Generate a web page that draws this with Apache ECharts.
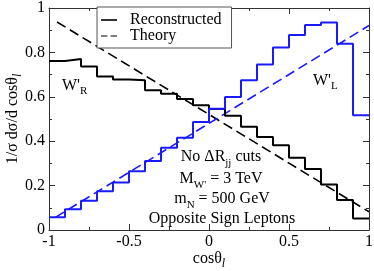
<!DOCTYPE html>
<html>
<head>
<meta charset="utf-8">
<script src="https://cdn.jsdelivr.net/npm/echarts@6/dist/echarts.min.js"></script>
<style>
html,body{margin:0;padding:0;background:#fff;}
#chart{width:374px;height:271px;}
</style>
</head>
<body>
<div id="chart"></div>
<script>
// Bin edges in cos(theta_l)
const binEdges = [-1, -0.9, -0.8, -0.7, -0.6, -0.5, -0.4, -0.3, -0.2, -0.1, 0, 0.1, 0.2, 0.3, 0.4, 0.5, 0.6, 0.7, 0.8, 0.9, 1];
// Reconstructed W'_R (black histogram)
const reconR = [0.761, 0.770, 0.737, 0.692, 0.678, 0.674, 0.629, 0.614, 0.590, 0.562, 0.545, 0.515, 0.465, 0.419, 0.382, 0.325, 0.275, 0.205, 0.135, 0.052];
// Reconstructed W'_L (blue histogram)
const reconL = [0.057, 0.094, 0.132, 0.174, 0.214, 0.265, 0.311, 0.370, 0.415, 0.486, 0.546, 0.599, 0.674, 0.745, 0.822, 0.878, 0.923, 0.935, 0.839, 0.517];
// Theory lines
const theoryRx = [-0.95, 1];
const theoryRy = [0.937, 0.082];
const theoryLx = [-0.96, 1];
const theoryLy = [0.057, 0.921];
// Tick labels
const xTicks = [-1, -0.5, 0, 0.5, 1];
const yTicks = [0, 0.2, 0.4, 0.6, 0.8, 1];

function histPoints(edges, vals) {
  const pts = [];
  for (let i = 0; i < vals.length; i++) pts.push([edges[i], vals[i]]);
  pts.push([edges[edges.length - 1], vals[vals.length - 1]]);
  return pts;
}
function linePoints(xs, ys) { return xs.map((x, i) => [x, ys[i]]); }

const FONT = 'Liberation Serif';
const BLUE = '#1a1aff';
const AXC = '#333';

const chart = echarts.init(document.getElementById('chart'), null, {renderer: 'canvas'});

const fmtX = v => { const r = xTicks.find(t => Math.abs(t - v) < 1e-9); return r === undefined ? '' : String(r); };
const fmtY = v => { const r = yTicks.find(t => Math.abs(t - v) < 1e-9); return r === undefined ? '' : String(r); };

const baseAxis = {
  axisLine: {show: true, onZero: false, lineStyle: {color: AXC, width: 1}},
  axisTick: {show: true, inside: true, length: 6, lineStyle: {color: AXC}},
  minorTick: {show: true, splitNumber: 2, length: 3, lineStyle: {color: AXC}},
  splitLine: {show: false},
  minorSplitLine: {show: false}
};

const rich = {
  n: {fontFamily: FONT, fontSize: 16, color: '#000', lineHeight: 18},
  s: {fontFamily: FONT, fontSize: 11, color: '#000', lineHeight: 11, padding: [12, 0, 0, 0]},
  si: {fontFamily: FONT, fontSize: 12, fontStyle: 'italic', color: '#000', lineHeight: 11, padding: [10, 0, 0, 0]},
  bn: {fontFamily: FONT, fontSize: 16, color: BLUE, lineHeight: 18},
  bs: {fontFamily: FONT, fontSize: 11, color: BLUE, lineHeight: 11, padding: [12, 0, 0, 0]}
};

const option = {
  animation: false,
  backgroundColor: '#fff',
  grid: {left: 49, right: 5, top: 8, bottom: 41, containLabel: false, outerBoundsMode: 'none'},
  legend: {
    orient: 'vertical',
    left: 97, top: 7,
    width: 120,
    padding: [5, 10, 4, 4],
    itemGap: 0,
    itemWidth: 16,
    itemHeight: 12,
    backgroundColor: '#fff',
    borderColor: '#555',
    borderWidth: 1,
    borderRadius: 0,
    textStyle: {fontFamily: FONT, fontSize: 16, color: '#000', lineHeight: 14, padding: [0, 0, 0, 8]},
    data: [
      {name: 'Reconstructed', icon: 'path://M0,5 L20,5 L20,7 L0,7 Z', itemStyle: {color: '#000'}},
      {name: 'Theory', icon: 'path://M0,5 L8,5 L8,6.5 L0,6.5 Z M12,5 L20,5 L20,6.5 L12,6.5 Z', itemStyle: {color: '#000'}}
    ]
  },
  xAxis: [
    Object.assign({}, baseAxis, {
      type: 'value', min: -1, max: 1, interval: 0.5, position: 'bottom',
      axisLabel: {show: true, margin: 4, fontFamily: FONT, fontSize: 16, color: '#000', formatter: fmtX},
      name: '{n|cosθ}{si|l}', nameLocation: 'middle', nameGap: 20, nameMoveOverlap: false,
      nameTextStyle: {rich: rich}
    }),
    Object.assign({}, baseAxis, {
      type: 'value', min: -1, max: 1, interval: 0.5, position: 'top',
      axisLabel: {show: false}
    })
  ],
  yAxis: [
    Object.assign({}, baseAxis, {
      type: 'value', min: 0, max: 1, interval: 0.2, position: 'left',
      axisLabel: {show: true, margin: 4, fontFamily: FONT, fontSize: 16, color: '#000', formatter: fmtY},
      name: '{n|1/σ dσ/d cosθ}{si|l}', nameLocation: 'middle', nameGap: 27, nameRotate: 90, nameMoveOverlap: false,
      nameTextStyle: {rich: rich}
    }),
    Object.assign({}, baseAxis, {
      type: 'value', min: 0, max: 1, interval: 0.2, position: 'right',
      axisLabel: {show: false}
    })
  ],
  series: [
    {
      name: 'Reconstructed', type: 'line', step: 'end', showSymbol: false, symbol: 'none',
      data: histPoints(binEdges, reconR),
      lineStyle: {color: '#000', width: 2}, itemStyle: {color: '#000'}, z: 3
    },
    {
      name: 'Reconstructed', type: 'line', step: 'end', showSymbol: false, symbol: 'none',
      data: histPoints(binEdges, reconL),
      lineStyle: {color: BLUE, width: 2}, itemStyle: {color: BLUE}, z: 4
    },
    {
      name: 'Theory', type: 'line', showSymbol: false, symbol: 'none',
      data: linePoints(theoryRx, theoryRy),
      lineStyle: {color: '#000', width: 1.6, type: [10, 5]}, itemStyle: {color: '#000'}, z: 2
    },
    {
      name: 'Theory', type: 'line', showSymbol: false, symbol: 'none',
      data: linePoints(theoryLx, theoryLy),
      lineStyle: {color: BLUE, width: 1.6, type: [10, 5]}, itemStyle: {color: BLUE}, z: 2
    }
  ],
  graphic: [
    {type: 'text', left: 62, top: 74, style: {text: "{n|W'}{s|R}", rich: rich}},
    {type: 'text', left: 313, top: 69, style: {text: "{bn|W'}{bs|L}", rich: rich}},
    {type: 'text', x: 221, y: 157, style: {text: '{n|No ΔR}{s|jj}{n| cuts}', rich: rich, align: 'center', verticalAlign: 'middle'}},
    {type: 'text', x: 221, y: 179, style: {text: "{n|M}{s|W'}{n| = 3 TeV}", rich: rich, align: 'center', verticalAlign: 'middle'}},
    {type: 'text', x: 222, y: 199, style: {text: '{n|m}{s|N}{n| = 500 GeV}', rich: rich, align: 'center', verticalAlign: 'middle'}},
    {type: 'text', x: 222, y: 219, style: {text: '{n|Opposite Sign Leptons}', rich: rich, align: 'center', verticalAlign: 'middle'}}
  ]
};
chart.setOption(option);
</script>
</body>
</html>
